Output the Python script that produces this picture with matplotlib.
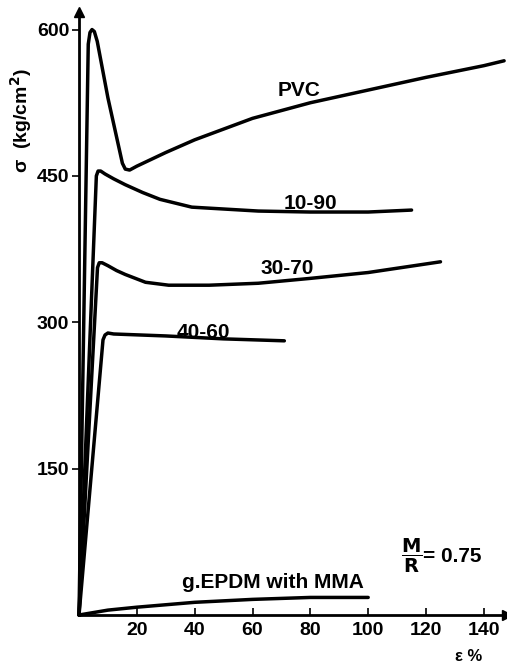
import matplotlib.pyplot as plt
import numpy as np

plt.rcParams['font.family'] = ['Liberation Sans', 'DejaVu Sans']

# stress-strain curves (strain %, stress kg/cm2)
pvc_x = [0, 3.2, 3.8, 4.5, 5.3, 6.3, 10, 15.0, 16.0, 17.5, 20, 30, 40, 60, 80, 100, 120, 140, 147]
pvc_y = [0, 585, 597, 600, 598, 588, 530, 463, 457, 456, 460, 474, 487, 509, 525, 538, 551, 563, 568]

c1090_x = [0, 6.0, 6.6, 7.5, 9, 12, 16, 22, 28, 39, 62, 80, 100, 115]
c1090_y = [0, 450, 455, 455, 452, 447, 441, 433, 426, 418, 414, 413, 413, 415]

c3070_x = [0, 6.4, 7.0, 8.0, 10, 13, 16, 23, 31, 45, 62, 80, 100, 125]
c3070_y = [0, 356, 361, 361, 358, 353, 349, 341, 338, 338, 340, 345, 351, 362]

c4060_x = [0, 8.3, 9.0, 10, 12, 30, 50, 71]
c4060_y = [0, 282, 287, 289, 288, 286, 283, 281]

epdm_x = [0, 10, 20, 40, 60, 80, 100]
epdm_y = [0, 5, 8, 13, 16, 18, 18]

xticks = [20, 40, 60, 80, 100, 120, 140]
yticks = [150, 300, 450, 600]

fig = plt.figure(figsize=(5.07, 6.63), dpi=100)
ax = fig.add_axes([79 / 507, 48 / 663, (507 - 79) / 507, (615 - 12) / 663])

for xs, ys in [(pvc_x, pvc_y), (c1090_x, c1090_y), (c3070_x, c3070_y),
               (c4060_x, c4060_y), (epdm_x, epdm_y)]:
    ax.plot(xs, ys, color='black', lw=2.5, solid_joinstyle='round',
            solid_capstyle='round', clip_on=False)

ax.set_xlim(0, 148)
ax.set_ylim(0, 618)
for s in ['top', 'right']:
    ax.spines[s].set_visible(False)
for s in ['left', 'bottom']:
    ax.spines[s].set_linewidth(2)
ax.plot(1, 0, '>k', ms=7, transform=ax.transAxes, clip_on=False)
ax.plot(0, 1, '^k', ms=7, transform=ax.transAxes, clip_on=False)

ax.set_xticks(xticks)
ax.set_yticks(yticks)
ax.tick_params(axis='x', direction='in', length=5, width=1.2, labelsize=14, pad=5)
ax.tick_params(axis='y', direction='out', length=5, width=1.2, labelsize=14, pad=2)
for lab in ax.get_xticklabels() + ax.get_yticklabels():
    lab.set_fontweight('bold')

ax.set_ylabel('σ  (kg/cm$^\\mathbf{2}$)', fontsize=14, fontweight='bold')
ax.yaxis.set_label_coords(-0.105, 0.82)
ax.text(0.91, -0.068, 'ε %', transform=ax.transAxes, fontsize=12,
        fontweight='bold', ha='center', va='center')

kw = dict(fontsize=15, fontweight='bold', ha='center', va='center')
ax.text(76, 538, 'PVC', **kw)
ax.text(80, 422, '10-90', **kw)
ax.text(72, 355, '30-70', **kw)
ax.text(43, 290, '40-60', **kw)
ax.text(67, 33, 'g.EPDM with MMA', **kw)
ax.text(115, 60, r'$\dfrac{\mathbf{M}}{\mathbf{R}}$', fontsize=14,
        ha='center', va='center')
ax.text(119, 60, '= 0.75', fontsize=15, fontweight='bold',
        ha='left', va='center')

fig.savefig('out.png', dpi=100)
